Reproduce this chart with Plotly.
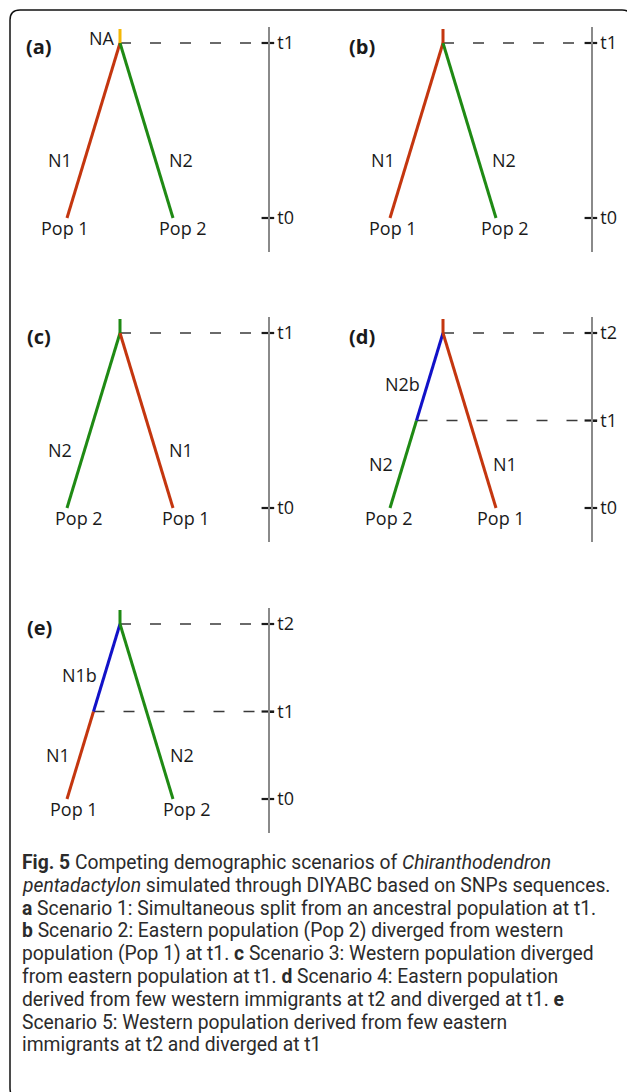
import plotly.graph_objects as go

# ---------------- data ----------------
scenario_ids = ["(a)", "(b)", "(c)", "(d)", "(e)"]
left_pop = ["Pop 1", "Pop 1", "Pop 2", "Pop 2", "Pop 1"]
right_pop = ["Pop 2", "Pop 2", "Pop 1", "Pop 1", "Pop 2"]
left_size = ["N1", "N1", "N2", "N2", "N1"]
right_size = ["N2", "N2", "N1", "N1", "N2"]
founder_size = [None, None, None, "N2b", "N1b"]      # bottleneck on the left lineage
ancestral_pop = ["NA", "Pop 1", "Pop 2", "Pop 1", "Pop 2"]
ancestral_label = ["NA", None, None, None, None]
time_labels = [["t0", "t1"], ["t0", "t1"], ["t0", "t1"], ["t0", "t1", "t2"], ["t0", "t1", "t2"]]
time_values = [[0, 1], [0, 1], [0, 1], [0, 0.5, 1], [0, 0.5, 1]]
leaf_x = [-1, 1]
root_x = 0

caption_lines = [
    "<b>Fig. 5</b> Competing demographic scenarios of <i>Chiranthodendron</i>",
    "<i>pentadactylon</i> simulated through DIYABC based on SNPs sequences.",
    "<b>a</b> Scenario 1: Simultaneous split from an ancestral population at t1.",
    "<b>b</b> Scenario 2: Eastern population (Pop 2) diverged from western",
    "population (Pop 1) at t1. <b>c</b> Scenario 3: Western population diverged",
    "from eastern population at t1. <b>d</b> Scenario 4: Eastern population",
    "derived from few western immigrants at t2 and diverged at t1. <b>e</b>",
    "Scenario 5: Western population derived from few eastern",
    "immigrants at t2 and diverged at t1",
]

# ---------------- style / layout ----------------
W, H = 627, 1092
FONT = "Open Sans"
CAP_FONT = "Roboto"
colors = {"Pop 1": "#C4360F", "Pop 2": "#1F8A14", "founder": "#1212C8", "NA": "#F4B806"}
origins = [(120, 218), (443, 218), (120, 508), (443, 508), (120, 799)]  # pixel of (x=0, t=0)
SX, ST = 53.0, 175.0          # pixels per unit
XR = [-2.2, 2.79]             # right edge = time axis
YR = [-0.194, 1.091]
AXIS_X = XR[1]
STUB = 0.08
label_t_single = 0.33
label_t_low = 0.25
label_t_founder = 0.71
left_pop_shift = [-2, 3, 12, -1, 7]
right_pop_shift = [10, 9, 13, 5, 14]
TXT = "#1a1a1a"

fig = go.Figure()
layout = {}
annotations = []


def pt_on(x0, t0, x1, t1, t):
    return x0 + (x1 - x0) * (t - t0) / (t1 - t0)


for i in range(5):
    sfx = "" if i == 0 else str(i + 1)
    xa, ya = "x" + sfx, "y" + sfx
    ox, oy = origins[i]
    layout["xaxis" + sfx] = dict(
        domain=[(ox + XR[0] * SX) / W, (ox + XR[1] * SX) / W],
        range=XR, visible=False, anchor=ya, fixedrange=True)
    layout["yaxis" + sfx] = dict(
        domain=[1 - (oy - YR[0] * ST) / H, 1 - (oy - YR[1] * ST) / H],
        range=YR, anchor=xa, side="right", showline=True, linecolor="#8a8a8a",
        linewidth=1.5, showgrid=False, zeroline=False,
        ticks="outside", ticklen=4, tickwidth=2, tickcolor=TXT,
        tickvals=time_values[i], ticktext=time_labels[i],
        tickfont=dict(family=FONT, size=18, color=TXT), fixedrange=True)

    times = time_values[i]
    t_root = max(times)
    lx, rx = leaf_x

    # dashed guide lines
    guides = [(root_x, t_root)]
    if founder_size[i]:
        t_mid = times[1]
        guides.append((pt_on(lx, 0, root_x, t_root, t_mid), t_mid))
    for gx, gt in guides:
        fig.add_trace(go.Scatter(x=[gx, AXIS_X], y=[gt, gt], mode="lines",
                                 line=dict(color="#3a3a3a", width=1.3, dash="11px,19px"),
                                 xaxis=xa, yaxis=ya, hoverinfo="skip"))

    # branches
    if founder_size[i]:
        t_mid = times[1]
        mx = pt_on(lx, 0, root_x, t_root, t_mid)
        fig.add_trace(go.Scatter(x=[lx, mx], y=[0, t_mid], mode="lines",
                                 line=dict(color=colors[left_pop[i]], width=3),
                                 xaxis=xa, yaxis=ya, hoverinfo="skip"))
        fig.add_trace(go.Scatter(x=[mx, root_x], y=[t_mid, t_root], mode="lines",
                                 line=dict(color=colors["founder"], width=3),
                                 xaxis=xa, yaxis=ya, hoverinfo="skip"))
    else:
        fig.add_trace(go.Scatter(x=[lx, root_x], y=[0, t_root], mode="lines",
                                 line=dict(color=colors[left_pop[i]], width=3),
                                 xaxis=xa, yaxis=ya, hoverinfo="skip"))
    fig.add_trace(go.Scatter(x=[rx, root_x], y=[0, t_root], mode="lines",
                             line=dict(color=colors[right_pop[i]], width=3),
                             xaxis=xa, yaxis=ya, hoverinfo="skip"))
    fig.add_trace(go.Scatter(x=[root_x, root_x], y=[t_root, t_root + STUB], mode="lines",
                             line=dict(color=colors[ancestral_pop[i]], width=3),
                             xaxis=xa, yaxis=ya, hoverinfo="skip"))

    # tick marks crossing the time axis
    fig.add_trace(go.Scatter(x=[AXIS_X] * len(times), y=times, mode="markers",
                             marker=dict(symbol="line-ew", size=9,
                                         line=dict(color=TXT, width=2.2)),
                             cliponaxis=False, xaxis=xa, yaxis=ya, hoverinfo="skip"))

    # labels
    def ann(x, y, text, xanchor="center", xshift=0, yshift=0, size=18):
        annotations.append(dict(x=x, y=y, xref=xa, yref=ya, text=text, showarrow=False,
                                xanchor=xanchor, yanchor="middle", xshift=xshift, yshift=yshift,
                                font=dict(family=FONT, size=size, color=TXT)))

    ann(-1.52, 0.98, "<b>" + scenario_ids[i] + "</b>", size=20)
    if ancestral_label[i]:
        ann(root_x, t_root, ancestral_label[i], xanchor="right", xshift=-3, yshift=5)
    ann(lx, 0, left_pop[i], xshift=left_pop_shift[i], yshift=-10)
    ann(rx, 0, right_pop[i], xshift=right_pop_shift[i], yshift=-10)
    if founder_size[i]:
        tl = label_t_low
        ann(pt_on(lx, 0, root_x, t_root, tl), tl, left_size[i], xanchor="right", xshift=-8)
        tf = label_t_founder
        ann(pt_on(lx, 0, root_x, t_root, tf), tf, founder_size[i], xanchor="right", xshift=-6)
        ann(pt_on(rx, 0, root_x, t_root, tl), tl, right_size[i], xanchor="left", xshift=8)
    else:
        tl = label_t_single
        ann(pt_on(lx, 0, root_x, t_root, tl), tl, left_size[i], xanchor="right", xshift=-10)
        ann(pt_on(rx, 0, root_x, t_root, tl), tl, right_size[i], xanchor="left", xshift=11)

# caption
for k, line in enumerate(caption_lines):
    annotations.append(dict(x=21 / W, y=1 - (862 + 22.8 * k) / H, xref="paper", yref="paper",
                            text=line, showarrow=False, xanchor="left", yanchor="middle",
                            height=22, borderpad=0, valign="middle",
                            font=dict(family=CAP_FONT, size=19.3, color="#2b2b2b")))


def p(x, y):
    return f"{x / W:.5f},{1 - y / H:.5f}"


border = ("M " + p(18, 1098) + " Q " + p(10, 1098) + " " + p(10, 1088) +
          " L " + p(10, 20) + " Q " + p(10, 10) + " " + p(20, 10) +
          " L " + p(622, 10) + " Q " + p(632, 10) + " " + p(632, 20) +
          " L " + p(632, 1098))

fig.update_layout(
    width=W, height=H, margin=dict(l=0, r=0, t=0, b=0),
    paper_bgcolor="white", plot_bgcolor="rgba(0,0,0,0)", showlegend=False,
    annotations=annotations,
    shapes=[dict(type="path", path=border, xref="paper", yref="paper",
                 line=dict(color="#111111", width=1.5))],
    **layout)

fig.write_html("out.html", config={"displayModeBar": False},
               post_script="document.body.style.margin='0';document.body.style.overflow='hidden';")
